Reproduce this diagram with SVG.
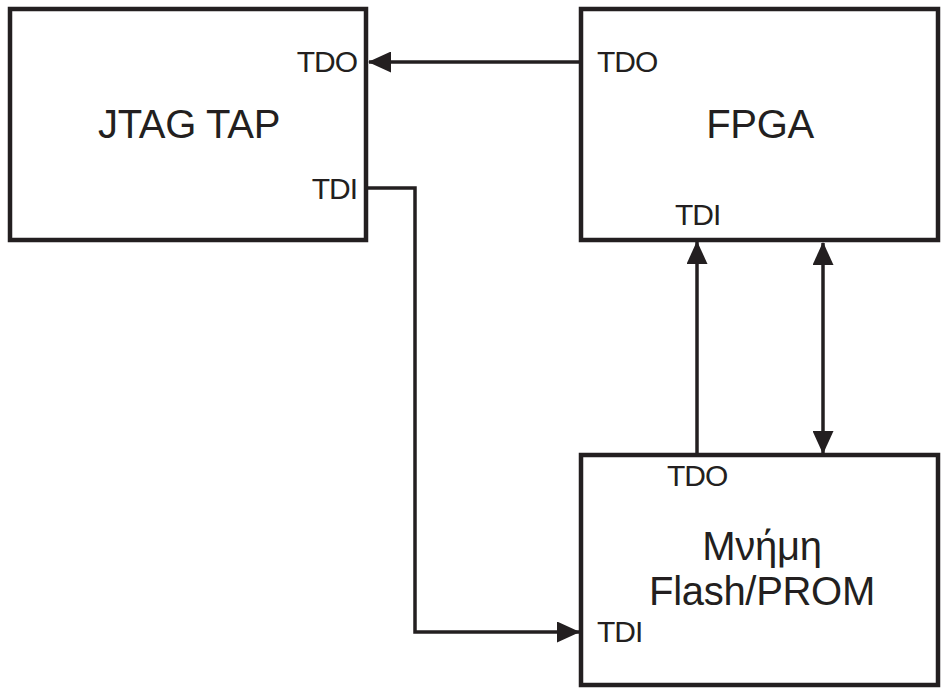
<svg xmlns="http://www.w3.org/2000/svg" width="942" height="693" viewBox="0 0 942 693">
<defs>
<marker id="ah" markerUnits="userSpaceOnUse" markerWidth="23" markerHeight="21" refX="22" refY="10.5" orient="auto-start-reverse" viewBox="0 0 23 21">
<path d="M0,0 L23,10.5 L0,21 z" fill="#231f20"/>
</marker>
<style>
.box{fill:#fff;stroke:#231f20;stroke-width:4.5}
.lbl{font-family:"Liberation Sans",Arial,sans-serif;fill:#231f20}
.big{font-size:40px;text-anchor:middle;letter-spacing:-0.3px}
.pin{font-size:30px;letter-spacing:-1px}
.wire{fill:none;stroke:#231f20;stroke-width:3.5}
</style>
</defs>
<rect width="942" height="693" fill="#fff"/>
<g id="connectors">
<path class="wire" d="M581,62 H369" marker-end="url(#ah)"/>
<path class="wire" d="M366,188 H415 V632 H579" marker-end="url(#ah)"/>
<path class="wire" d="M697,455 V242" marker-end="url(#ah)"/>
<path class="wire" d="M823,243 V453" marker-start="url(#ah)" marker-end="url(#ah)"/>
</g>
<g id="jtag">
<rect class="box" x="10" y="9" width="356" height="231"/>
<text class="lbl big" x="189" y="138">JTAG TAP</text>
<text class="lbl pin" x="357" y="72" text-anchor="end">TDO</text>
<text class="lbl pin" x="357" y="199" text-anchor="end">TDI</text>
</g>
<g id="fpga">
<rect class="box" x="581" y="9" width="357" height="231"/>
<text class="lbl big" x="760" y="138">FPGA</text>
<text class="lbl pin" x="597" y="72">TDO</text>
<text class="lbl pin" x="675" y="225">TDI</text>
</g>
<g id="memory">
<rect class="box" x="581" y="455" width="357" height="230"/>
<text class="lbl pin" x="667" y="486">TDO</text>
<text class="lbl big" x="762" y="560">Μνήμη</text>
<text class="lbl big" x="762" y="605">Flash/PROM</text>
<text class="lbl pin" x="597" y="642">TDI</text>
</g>
</svg>
